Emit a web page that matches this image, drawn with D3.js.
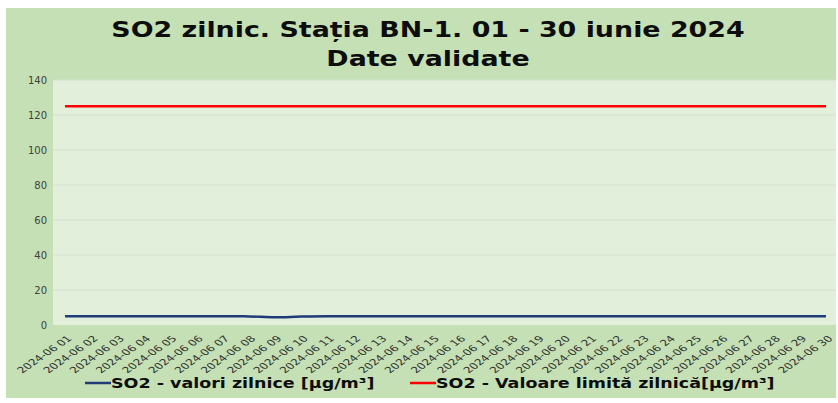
<!DOCTYPE html>
<html>
<head>
<meta charset="utf-8">
<script src="https://cdn.jsdelivr.net/npm/d3@7"></script>
<style>
  body { margin: 0; background: #fff; }
  text { font-family: "DejaVu Sans", Verdana, sans-serif; }
</style>
</head>
<body>
<script>
// data
var days = ["2024-06 01","2024-06 02","2024-06 03","2024-06 04","2024-06 05","2024-06 06",
  "2024-06 07","2024-06 08","2024-06 09","2024-06 10","2024-06 11","2024-06 12","2024-06 13",
  "2024-06 14","2024-06 15","2024-06 16","2024-06 17","2024-06 18","2024-06 19","2024-06 20",
  "2024-06 21","2024-06 22","2024-06 23","2024-06 24","2024-06 25","2024-06 26","2024-06 27",
  "2024-06 28","2024-06 29","2024-06 30"]
var so2Values = [5,5,5,5,5,5,5,4.9,4.4,4.8,5,5,5,5,5,5,5,5,5,5,5,5,5,5,5,5,5,5,5,5]
var limitValues = [125,125,125,125,125,125,125,125,125,125,125,125,125,125,125,125,125,125,125,125,
  125,125,125,125,125,125,125,125,125,125]
var yTicks = [0,20,40,60,80,100,120,140]
var titleLines = ["SO2 zilnic. Stația BN-1. 01 - 30 iunie 2024", "Date validate"]
var legendNames = ["SO2 - valori zilnice [µg/m³]", "SO2 - Valoare limită zilnică[µg/m³]"]
var legendColors = ["#1f3b78", "#ff0000"]

var W = 838, H = 403
var margin = {top: 80, right: 2, bottom: 78, left: 53}
var width = W - margin.left - margin.right,
    height = H - margin.top - margin.bottom

// the original picture is stretched sideways, so text is too
var stretch = 1.28

var svg = d3.select("body").append("svg")
    .attr("width", W)
    .attr("height", H)

// outer green panel
svg.append("rect")
    .attr("x", 6).attr("y", 8)
    .attr("width", 830).attr("height", 390)
    .attr("fill", "#c5e0b4")

var g = svg.append("g")
    .attr("transform", "translate(" + margin.left + "," + margin.top + ")")

g.append("rect")
    .attr("width", width).attr("height", height)
    .attr("fill", "#e2efda")

var xScale = d3.scalePoint().domain(days).range([12, 773])
var yScale = d3.scaleLinear().domain([0, 140]).range([height, 0])

// grid lines
g.selectAll(".grid")
    .data(yTicks.slice(1))
    .enter().append("line")
    .attr("class", "grid")
    .attr("x1", 0).attr("x2", width)
    .attr("y1", function(d){ return yScale(d) })
    .attr("y2", function(d){ return yScale(d) })
    .attr("stroke", "#d5e0cf")
    .attr("stroke-width", 1)

// y axis
var yAxis = g.append("g")
    .call(d3.axisLeft(yScale).tickValues(yTicks).tickSize(0).tickPadding(6))
yAxis.select(".domain").remove()
yAxis.selectAll("text")
    .attr("fill", "#404040")
    .style("font-size", "10px")
    .style("font-family", "'DejaVu Sans', Verdana, sans-serif")

// x axis
var xAxis = g.append("g")
    .attr("transform", "translate(0," + height + ")")
    .call(d3.axisBottom(xScale).tickSize(0).tickPadding(0))
xAxis.select(".domain").remove()
xAxis.selectAll("text")
    .attr("fill", "#303030")
    .style("font-size", "8.5px")
    .style("font-family", "'DejaVu Sans', Verdana, sans-serif")
    .attr("text-anchor", "end")
    .attr("y", 0)
    .attr("dy", "0.35em")
    .attr("transform", "translate(4,12) scale(1.45,1) rotate(-45)")

// lines
var line = d3.line()
    .x(function(d, i){ return xScale(days[i]) })
    .y(function(d){ return yScale(d) })
    .curve(d3.curveMonotoneX)

g.append("path")
    .datum(limitValues)
    .attr("d", line)
    .attr("fill", "none")
    .attr("stroke", legendColors[1])
    .attr("stroke-width", 2.5)

g.append("path")
    .datum(so2Values)
    .attr("d", line)
    .attr("fill", "none")
    .attr("stroke", legendColors[0])
    .attr("stroke-width", 2.5)

// title
svg.selectAll(".title")
    .data(titleLines)
    .enter().append("text")
    .attr("class", "title")
    .attr("transform", function(d, i){
      return "translate(428," + (37 + i * 29) + ") scale(" + stretch + ",1)" })
    .attr("text-anchor", "middle")
    .style("font-size", "21px")
    .style("font-weight", "bold")
    .attr("fill", "#0d0d0d")
    .text(function(d){ return d })

// legend
var legendX = [85, 410]
var leg = svg.selectAll(".legend")
    .data(legendNames)
    .enter().append("g")
    .attr("class", "legend")
    .attr("transform", function(d, i){ return "translate(" + legendX[i] + ",383)" })

leg.append("line")
    .attr("x1", 0).attr("x2", 26)
    .attr("stroke", function(d, i){ return legendColors[i] })
    .attr("stroke-width", 2.5)

leg.append("text")
    .attr("transform", "translate(26,0) scale(1.25,1)")
    .attr("dy", "0.36em")
    .style("font-size", "14px")
    .style("font-weight", "bold")
    .attr("fill", "#0d0d0d")
    .text(function(d){ return d })
</script>
</body>
</html>
